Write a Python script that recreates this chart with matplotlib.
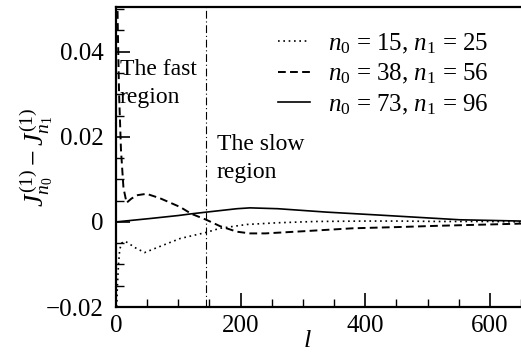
import matplotlib
matplotlib.use("Agg")
import matplotlib.pyplot as plt
import numpy as np
from matplotlib.ticker import MultipleLocator

plt.rcParams['font.family'] = ['Liberation Serif', 'DejaVu Serif']
plt.rcParams['mathtext.fontset'] = 'custom'
plt.rcParams['mathtext.rm'] = 'Liberation Serif'
plt.rcParams['mathtext.it'] = 'Liberation Serif:italic'
plt.rcParams['font.size'] = 18

# data
l_a = [0, 1, 2, 4, 6, 9, 14, 20, 30, 46, 70, 103, 144, 167, 210, 260, 320, 400, 455, 520, 600, 650]
j_a = [-0.03, -0.022, -0.016, -0.010, -0.0065, -0.005, -0.0045, -0.005, -0.006, -0.0072, -0.0058,
       -0.0039, -0.0025, -0.0015, -0.0006, -0.0002, 0.0001, 0.0002, 0.0002, 0.0001, 0.0001, 0.0]

l_b = [0, 1, 2, 3, 5, 8, 12, 17, 25, 35, 49, 70, 103, 121, 145, 167, 194, 215, 240, 300, 380, 455,
       520, 600, 650]
j_b = [0.09, 0.07, 0.055, 0.045, 0.030, 0.017, 0.008, 0.0045, 0.0055, 0.0063, 0.0066, 0.0056,
       0.0035, 0.0019, 0.0005, -0.001, -0.0023, -0.0027, -0.0027, -0.0022, -0.0015, -0.0012,
       -0.0009, -0.0006, -0.0004]

l_c = [0, 55, 100, 121, 145, 194, 215, 260, 338, 423, 552, 650]
j_c = [0.0, 0.0008, 0.0015, 0.0019, 0.0023, 0.0031, 0.0033, 0.0031, 0.0023, 0.0016, 0.0005, 0.0002]

labels = [r'$n_0$ = 15, $n_1$ = 25', r'$n_0$ = 38, $n_1$ = 56', r'$n_0$ = 73, $n_1$ = 96']
yticks = [-0.02, 0, 0.02, 0.04]
ytick_labels = ['\u22120.02', '0', '0.02', '0.04']
l_split = 145

fig = plt.figure(figsize=(5.21, 3.56), dpi=100)
ax = fig.add_axes([0.2226, 0.1376, 0.7774, 0.8427])

ax.plot(l_a, j_a, color='k', lw=1.2, linestyle=(0, (1, 2.2)), label=labels[0])
ax.plot(l_b, j_b, color='k', lw=1.4, linestyle=(0, (4, 2.2)), label=labels[1])
ax.plot(l_c, j_c, color='k', lw=1.2, linestyle='-', label=labels[2])
ax.axvline(l_split, color='k', lw=0.8, linestyle=(0, (7, 2.5, 1, 2.5)))

ax.text(6, 0.0383, 'The fast\nregion', ha='left', va='top', linespacing=1.45, fontsize=17)
ax.text(162, 0.0207, 'The slow\nregion', ha='left', va='top', linespacing=1.45, fontsize=17)

ax.set_xlim(0, 650)
ax.set_ylim(-0.02, 0.0505)
ax.xaxis.set_major_locator(MultipleLocator(200))
ax.xaxis.set_minor_locator(MultipleLocator(50))
ax.yaxis.set_minor_locator(MultipleLocator(0.005))
ax.set_yticks(yticks)
ax.set_yticklabels(ytick_labels)
ax.tick_params(which='major', direction='in', length=10, width=1.2)
ax.tick_params(which='minor', direction='in', length=6, width=1.0)
ax.tick_params(axis='y', which='both', pad=9)
ax.tick_params(axis='x', which='both', pad=6)
ax.tick_params(top=False, right=False, which='both')

for s in ['left', 'bottom', 'top']:
    ax.spines[s].set_linewidth(1.6)
ax.spines['right'].set_visible(False)

ax.set_xlabel(r'$l$', fontsize=19)
ax.xaxis.set_label_coords(0.472, -0.075)
ax.set_ylabel(r'$J_{n_0}^{(1)} - J_{n_1}^{(1)}$', fontsize=20)
ax.yaxis.set_label_coords(-0.15, 0.5)

ax.legend(loc='upper left', bbox_to_anchor=(0.5336, 0.9115), bbox_transform=fig.transFigure,
          frameon=False, borderpad=0, handlelength=1.28, handletextpad=0.72, labelspacing=0.25,
          borderaxespad=0)

fig.savefig('out.png', dpi=100)
